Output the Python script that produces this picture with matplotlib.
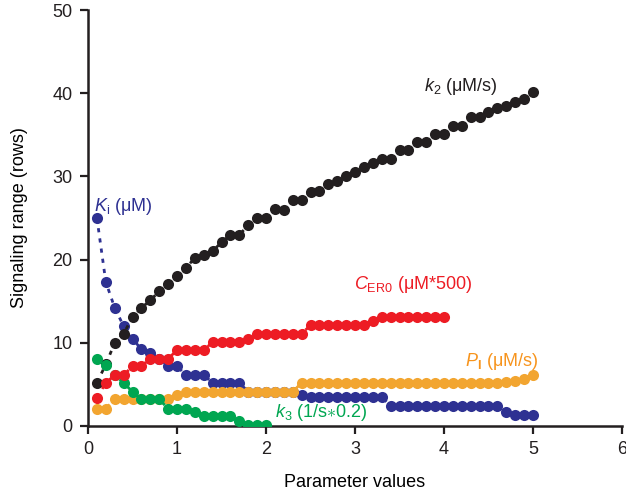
import numpy as np
import matplotlib
matplotlib.use('Agg')
import matplotlib.pyplot as plt

plt.rcParams['font.family'] = ['Liberation Sans', 'DejaVu Sans']
plt.rcParams['mathtext.fontset'] = 'custom'
plt.rcParams['mathtext.rm'] = 'Liberation Sans'
plt.rcParams['mathtext.it'] = 'Liberation Sans:italic'
plt.rcParams['mathtext.bf'] = 'Liberation Sans:bold'

# parameter values 0.1 ... 5.0
x_all = [round(0.1 * i, 1) for i in range(1, 51)]
x_cer = x_all[:40]   # C_ER0 stops at 4.0
x_k3 = x_all[:20]    # k3 stops at 2.0

k2 = [5.2, 7.4, 10.0, 11.1, 13.1, 14.2, 15.1, 16.2, 17.1, 18.0,
      19.0, 20.2, 20.6, 21.0, 22.1, 23.0, 23.0, 24.1, 25.0, 25.0,
      26.1, 26.0, 27.2, 27.2, 28.1, 28.3, 29.1, 29.4, 30.1, 30.5,
      31.1, 31.6, 32.1, 32.1, 33.2, 33.2, 34.1, 34.1, 35.1, 35.1,
      36.1, 36.1, 37.1, 37.1, 37.7, 38.2, 38.5, 39.0, 39.3, 40.2]

ki = [25.0, 17.3, 14.2, 12.0, 10.5, 9.2, 8.8, 8.1, 7.2, 7.2,
      6.1, 6.1, 6.1, 5.2, 5.2, 5.2, 5.2, 4.1, 4.1, 4.1,
      4.1, 4.1, 4.1, 3.7, 3.5, 3.5, 3.5, 3.5, 3.5, 3.5,
      3.5, 3.5, 3.5, 2.4, 2.4, 2.4, 2.4, 2.4, 2.4, 2.4,
      2.4, 2.4, 2.4, 2.4, 2.4, 2.4, 1.7, 1.3, 1.3, 1.3]

cer0 = [3.4, 5.2, 6.1, 6.1, 7.2, 7.2, 8.1, 8.1, 8.1, 9.1,
        9.1, 9.1, 9.1, 10.1, 10.1, 10.1, 10.1, 10.5, 11.1, 11.1,
        11.1, 11.1, 11.1, 11.1, 12.1, 12.1, 12.1, 12.1, 12.1, 12.1,
        12.1, 12.6, 13.1, 13.1, 13.1, 13.1, 13.1, 13.1, 13.1, 13.1]

pi = [2.1, 2.1, 3.2, 3.2, 3.2, 3.2, 3.2, 3.2, 3.2, 3.7,
      4.1, 4.1, 4.1, 4.1, 4.1, 4.1, 4.1, 4.1, 4.1, 4.1,
      4.1, 4.1, 4.1, 5.2, 5.2, 5.2, 5.2, 5.2, 5.2, 5.2,
      5.2, 5.2, 5.2, 5.2, 5.2, 5.2, 5.2, 5.2, 5.2, 5.2,
      5.2, 5.2, 5.2, 5.2, 5.2, 5.2, 5.3, 5.4, 5.7, 6.1]

k3 = [8.1, 7.3, 6.1, 5.2, 4.1, 3.2, 3.2, 3.2, 2.1, 2.1,
      2.1, 1.7, 1.2, 1.2, 1.2, 1.2, 0.6, 0.1, 0.1, 0.1]

c_black = '#231f20'
c_blue = '#2e3192'
c_red = '#ed1c24'
c_orange = '#f2a530'
c_green = '#00a651'

fig = plt.figure(figsize=(6.26, 4.94), dpi=100)
ax = fig.add_axes([0.1406, 0.1377, 0.853, 0.842])

dots = (0, (1.5, 2.2))
ms = 8
ax.plot(x_all, ki, ls=dots, lw=2, color=c_blue, marker='o', ms=ms, mew=0, zorder=1)
ax.plot(x_all, pi, ls=dots, lw=2, color=c_orange, marker='o', ms=ms, mew=0, zorder=2)
ax.plot(x_all, k2, ls=dots, lw=2, color=c_black, marker='o', ms=ms, mew=0, zorder=3)
ax.plot(x_k3, k3, ls=dots, lw=2, color=c_green, marker='o', ms=ms, mew=0, zorder=4)
ax.plot(x_cer, cer0, ls=dots, lw=2, color=c_red, marker='o', ms=ms, mew=0, zorder=5)

fs = 13
ax.text(3.78, 40.8, r'$k_2$ (μM/s)', color=c_black, fontsize=fs, va='center')
ax.text(0.07, 26.4, r'$K_\mathrm{i}$ (μM)', color=c_blue, fontsize=fs, va='center')
ax.text(2.99, 17.0, r'$C_\mathrm{ER0}$ (μM*500)', color=c_red, fontsize=fs, va='center')
ax.text(4.24, 7.8, r'$P_\mathbf{I}$ (μM/s)', color='#f7941d', fontsize=fs, va='center')
ax.text(2.1, 1.6, r'$k_3$ (1/s$\ast$0.2)', color=c_green, fontsize=fs, va='center')

ax.set_xlim(0, 6)
ax.set_ylim(0, 50)
ax.set_xticks(range(0, 7))
ax.set_yticks(range(0, 51, 10))
ax.spines['top'].set_visible(False)
ax.spines['right'].set_visible(False)
for s in ('left', 'bottom'):
    ax.spines[s].set_linewidth(1.8)
    ax.spines[s].set_color(c_black)
ax.tick_params(direction='out', length=6, width=1.6, labelsize=13, colors=c_black, pad=5)
ax.set_xlabel('Parameter values', fontsize=13, labelpad=11)
ax.set_ylabel('Signaling range (rows)', fontsize=13, labelpad=18)

fig.savefig('out.png', dpi=100)
